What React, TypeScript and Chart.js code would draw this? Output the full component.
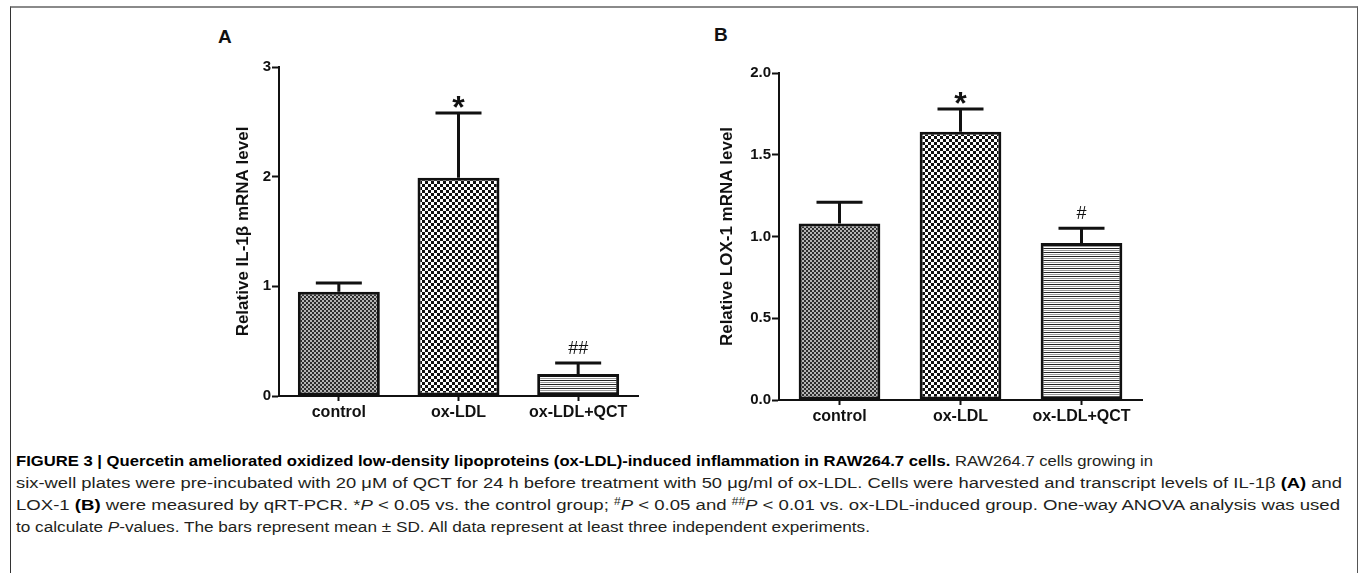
import React, { useEffect, useLayoutEffect, useRef } from 'react';
import { Chart, registerables } from 'chart.js';

Chart.register(...registerables);

// ---------------- data ----------------
const categories = ['control', 'ox-LDL', 'ox-LDL+QCT'];

const il1bMeans = [0.95, 1.99, 0.2];
const il1bSD = [0.08, 0.59, 0.1];
const il1bMarks = ['', '*', '##'];
const il1bTicks = [0, 1, 2, 3];
const il1bTitle = 'Relative IL-1β mRNA level';

const lox1Means = [1.08, 1.64, 0.96];
const lox1SD = [0.13, 0.14, 0.09];
const lox1Marks = ['', '*', '#'];
const lox1Ticks = [0, 0.5, 1.0, 1.5, 2.0];
const lox1Title = 'Relative LOX-1 mRNA level';

const FONT = "'Liberation Sans', Arial, Helvetica, sans-serif";
const INK = '#111';

function makePatterns(ctx: CanvasRenderingContext2D) {
  // fine grey checker
  const a = document.createElement('canvas');
  a.width = 4; a.height = 4;
  const ac = a.getContext('2d')!;
  ac.fillStyle = '#b5b5b5'; ac.fillRect(0, 0, 4, 4);
  ac.fillStyle = '#2e2e2e'; ac.fillRect(0, 0, 2, 2); ac.fillRect(2, 2, 2, 2);
  // coarse black/white checker
  const b = document.createElement('canvas');
  b.width = 6; b.height = 6;
  const bc = b.getContext('2d')!;
  bc.fillStyle = '#fff'; bc.fillRect(0, 0, 6, 6);
  bc.fillStyle = '#111'; bc.fillRect(0, 0, 3, 3); bc.fillRect(3, 3, 3, 3);
  // horizontal stripes
  const c = document.createElement('canvas');
  c.width = 4; c.height = 4;
  const cc = c.getContext('2d')!;
  cc.fillStyle = '#fff'; cc.fillRect(0, 0, 4, 4);
  cc.fillStyle = '#222'; cc.fillRect(0, 0, 4, 1);
  cc.fillStyle = '#999'; cc.fillRect(0, 2, 4, 1);
  return [
    ctx.createPattern(a, 'repeat')!,
    ctx.createPattern(b, 'repeat')!,
    ctx.createPattern(c, 'repeat')!,
  ];
}

const errorBarPlugin = {
  id: 'errorBars',
  afterDatasetsDraw(chart: any, _args: any, opts: any) {
    const { ctx } = chart;
    const meta = chart.getDatasetMeta(0);
    const values = chart.data.datasets[0].data as number[];
    const ys = chart.scales.y;
    meta.data.forEach((bar: any, i: number) => {
      const x = bar.x;
      const top = ys.getPixelForValue(values[i]);
      const errTop = ys.getPixelForValue(values[i] + opts.sd[i]);
      ctx.save();
      ctx.strokeStyle = INK;
      ctx.lineWidth = 3;
      ctx.lineCap = 'butt';
      ctx.beginPath();
      ctx.moveTo(x, top);
      ctx.lineTo(x, errTop);
      ctx.moveTo(x - opts.cap, errTop);
      ctx.lineTo(x + opts.cap, errTop);
      ctx.stroke();
      const mark = opts.marks[i];
      if (mark) {
        ctx.fillStyle = INK;
        ctx.textAlign = 'center';
        ctx.textBaseline = 'alphabetic';
        if (mark === '*') {
          ctx.font = `bold 32px ${FONT}`;
          ctx.fillText(mark, x, errTop + 5);
        } else {
          ctx.font = `18px ${FONT}`;
          ctx.fillText(mark, x, errTop - 9);
        }
      }
      ctx.restore();
    });
  },
};

type PanelProps = {
  means: number[];
  sd: number[];
  marks: string[];
  ticks: number[];
  title: string;
  decimals: number;
  left: number;
  top: number;
  width: number;
  height: number;
  yWidth: number;
  xHeight: number;
  padTop: number;
  padRight: number;
  titlePad: number;
  barPct: number;
};

function BarPanel(p: PanelProps) {
  const ref = useRef<HTMLCanvasElement>(null);
  useEffect(() => {
    const canvas = ref.current!;
    const ctx = canvas.getContext('2d')!;
    const patterns = makePatterns(ctx);
    const chart = new Chart(canvas, {
      type: 'bar',
      data: {
        labels: categories,
        datasets: [
          {
            data: p.means,
            backgroundColor: patterns as any,
            borderColor: INK,
            borderWidth: 3,
            borderSkipped: false,
            barPercentage: p.barPct,
            categoryPercentage: 1,
          },
        ],
      },
      options: {
        animation: false,
        responsive: false,
        layout: { padding: { top: p.padTop, right: p.padRight, bottom: 0, left: 0 } },
        plugins: {
          legend: { display: false },
          tooltip: { enabled: false },
          errorBars: { sd: p.sd, marks: p.marks, cap: 23 },
        } as any,
        scales: {
          x: {
            type: 'category',
            offset: true,
            grid: {
              display: true,
              drawOnChartArea: false,
              drawTicks: true,
              tickLength: 5,
              tickWidth: 2,
              tickColor: INK,
              offset: false,
            },
            border: { display: true, color: INK, width: 2 },
            ticks: {
              color: INK,
              font: { family: FONT, size: 16, weight: 'bold' },
              padding: 2,
              maxRotation: 0,
              autoSkip: false,
            },
            afterFit: (s: any) => {
              s.height = p.xHeight;
            },
          },
          y: {
            min: p.ticks[0],
            max: p.ticks[p.ticks.length - 1],
            afterBuildTicks: (s: any) => {
              s.ticks = p.ticks.map((v) => ({ value: v }));
            },
            grid: {
              display: true,
              drawOnChartArea: false,
              drawTicks: true,
              tickLength: 7,
              tickWidth: 2,
              tickColor: INK,
            },
            border: { display: true, color: INK, width: 2 },
            ticks: {
              color: INK,
              font: { family: FONT, size: 15, weight: 'bold' },
              padding: 1,
              callback: (v: any) => Number(v).toFixed(p.decimals),
            },
            title: {
              display: true,
              text: p.title,
              color: INK,
              font: { family: FONT, size: 17, weight: 'bold' },
              padding: { top: p.titlePad, bottom: 0 },
            },
            afterFit: (s: any) => {
              s.width = p.yWidth;
            },
          },
        },
      },
      plugins: [errorBarPlugin as any],
    });
    return () => chart.destroy();
  }, []);
  return (
    <canvas
      ref={ref}
      width={p.width}
      height={p.height}
      style={{ position: 'absolute', left: p.left, top: p.top, width: p.width, height: p.height }}
    />
  );
}

const captionTargets = [1137, 1326, 1324, 854];

export default function App() {
  const lineRefs = useRef<(HTMLDivElement | null)[]>([]);
  useLayoutEffect(() => {
    document.body.style.margin = '0';
    lineRefs.current.forEach((el, i) => {
      if (!el) return;
      el.style.transform = 'none';
      const w = el.getBoundingClientRect().width;
      if (w > 0) el.style.transform = `scaleX(${captionTargets[i] / w})`;
    });
  }, []);

  const lineStyle: React.CSSProperties = {
    position: 'absolute',
    left: 16,
    whiteSpace: 'nowrap',
    transformOrigin: 'left center',
    display: 'inline-block',
  };
  const sup: React.CSSProperties = { fontSize: 10, verticalAlign: 5 };

  return (
    <div
      style={{
        position: 'relative',
        width: 1359,
        height: 573,
        overflow: 'hidden',
        background: '#fff',
        fontFamily: FONT,
      }}
    >
      <div
        style={{
          position: 'absolute',
          left: 10,
          top: 6,
          width: 1346,
          height: 600,
          borderTop: '2px solid #8a8a8a',
          borderLeft: '1px solid #333',
          borderRight: '1px solid #555',
        }}
      />
      <div style={{ position: 'absolute', left: 218, top: 26, fontSize: 19, fontWeight: 'bold', color: INK }}>A</div>
      <div style={{ position: 'absolute', left: 714, top: 24, fontSize: 19, fontWeight: 'bold', color: INK }}>B</div>

      <BarPanel
        means={il1bMeans}
        sd={il1bSD}
        marks={il1bMarks}
        ticks={il1bTicks}
        title={il1bTitle}
        decimals={0}
        left={200}
        top={40}
        width={450}
        height={400}
        yWidth={79}
        xHeight={44}
        padTop={27}
        padRight={12}
        titlePad={33}
        barPct={0.685}
      />
      <BarPanel
        means={lox1Means}
        sd={lox1SD}
        marks={lox1Marks}
        ticks={lox1Ticks}
        title={lox1Title}
        decimals={1}
        left={700}
        top={40}
        width={460}
        height={400}
        yWidth={79}
        xHeight={40}
        padTop={33}
        padRight={18}
        titlePad={17}
        barPct={0.675}
      />

      <div style={{ position: 'absolute', left: 0, top: 0, fontSize: 15.5, color: '#231f20' }}>
        <div ref={(el) => { lineRefs.current[0] = el; }} style={{ ...lineStyle, top: 452 }}>
          <b style={{ color: '#000' }}>
            FIGURE 3 | Quercetin ameliorated oxidized low-density lipoproteins (ox-LDL)-induced inflammation in RAW264.7 cells.
          </b>{' '}
          RAW264.7 cells growing in
        </div>
        <div ref={(el) => { lineRefs.current[1] = el; }} style={{ ...lineStyle, top: 474 }}>
          six-well plates were pre-incubated with 20 μM of QCT for 24 h before treatment with 50 μg/ml of ox-LDL. Cells
          were harvested and transcript levels of IL-1β <b style={{ color: '#000' }}>(A)</b> and
        </div>
        <div ref={(el) => { lineRefs.current[2] = el; }} style={{ ...lineStyle, top: 496 }}>
          LOX-1 <b style={{ color: '#000' }}>(B)</b> were measured by qRT-PCR. *<i>P</i> &lt; 0.05 vs. the control group;{' '}
          <span style={sup}>#</span>
          <i>P</i> &lt; 0.05 and <span style={sup}>##</span>
          <i>P</i> &lt; 0.01 vs. ox-LDL-induced group. One-way ANOVA analysis was used
        </div>
        <div ref={(el) => { lineRefs.current[3] = el; }} style={{ ...lineStyle, top: 518 }}>
          to calculate <i>P</i>-values. The bars represent mean ± SD. All data represent at least three independent
          experiments.
        </div>
      </div>
    </div>
  );
}
